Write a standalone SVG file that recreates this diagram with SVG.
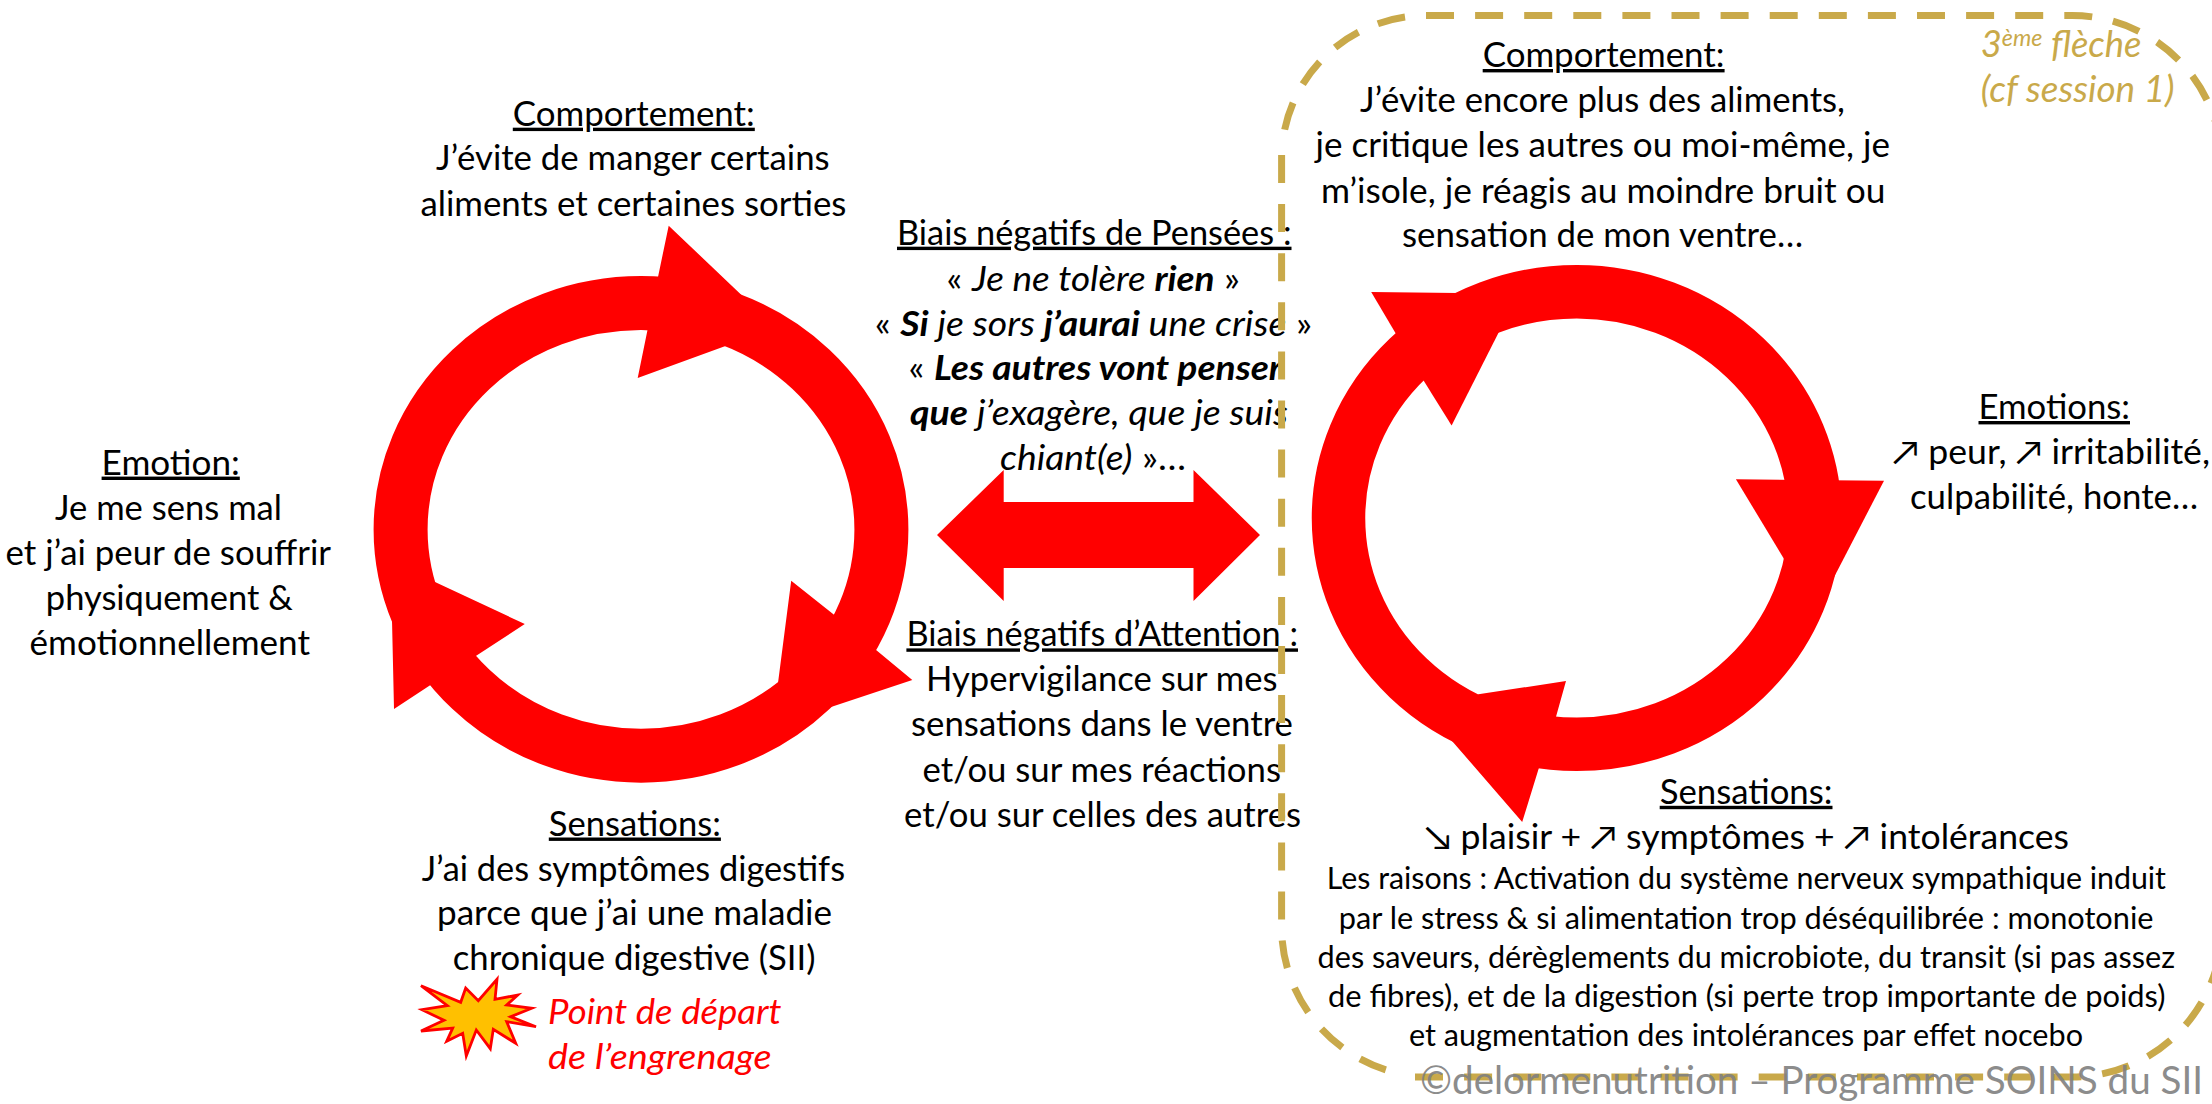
<svg xmlns="http://www.w3.org/2000/svg" width="2212" height="1104" viewBox="0 0 2212 1104">
<style>
text{font-family:"Lato","Carlito","DejaVu Sans",sans-serif;font-size:34px;fill:#000}
.h{text-decoration:underline}
.s{font-size:30px}
.i{font-style:italic}
.b{font-weight:700}
.g{fill:#C9A94A;font-style:italic;font-size:36px}
.r{fill:#FF0000;font-style:italic}
.c{fill:#808080;font-size:39px;opacity:.9}
.ring{fill:none;stroke:#FF0000}
.head{fill:#FF0000}
.dash{fill:none;stroke:#C9A94A;stroke-width:7}
</style>
<rect width="2212" height="1104" fill="#fff"/>
<g id="connectors">
<g id="cycle-left">
<ellipse class="ring" cx="641" cy="529.4" rx="240.4" ry="226.3" stroke-width="54"/>
<polygon class="head" points="668.7,225.7 742.5,296 725.5,346 637.7,378 647.5,330 658,277"/>
<polygon class="head" points="791.2,580.8 834,614.8 876.7,650.5 912.3,680 829.5,707.6 778,683"/>
<polygon class="head" points="392,620 435,582 524.8,624 476.6,655.6 430.5,685 394,709"/>
</g>
<polygon id="double-arrow" class="head" points="937,535 1003.7,470 1003.7,502 1193.5,502 1193.5,470 1260,535 1193.5,601 1193.5,568 1003.7,568 1003.7,601"/>
<g id="cycle-right">
<ellipse class="ring" cx="1576.8" cy="518" rx="238.3" ry="226.3" stroke-width="53.5"/>
<polygon class="head" points="1371.2,292 1457.3,293 1498.9,332 1451.6,425.4 1423.4,380.3 1395.9,333.8"/>
<polygon class="head" points="1735.9,479.2 1884,480.7 1816,612"/>
<polygon class="head" points="1566,681 1556,716.8 1538.4,769.6 1522.2,822 1451.6,740.4 1478.4,694.3"/>
</g>
</g>
<g id="node-comportement-left">
<text class="h" x="512.8" y="125.7" textLength="242" lengthAdjust="spacingAndGlyphs">Comportement:</text>
<text x="436" y="170.4" textLength="393.6" lengthAdjust="spacingAndGlyphs">J’évite de manger certains</text>
<text x="420.4" y="215.5" textLength="426" lengthAdjust="spacingAndGlyphs">aliments et certaines sorties</text>
</g>
<g id="node-emotion-left">
<text class="h" x="101.6" y="474.6" textLength="138.2" lengthAdjust="spacingAndGlyphs">Emotion:</text>
<text x="55" y="519.7" textLength="227" lengthAdjust="spacingAndGlyphs">Je me sens mal</text>
<text x="5.6" y="564.7" textLength="325.4" lengthAdjust="spacingAndGlyphs">et j’ai peur de souffrir</text>
<text x="45.8" y="610" textLength="246.9" lengthAdjust="spacingAndGlyphs">physiquement &amp;</text>
<text x="29.6" y="654.8" textLength="280.4" lengthAdjust="spacingAndGlyphs">émotionnellement</text>
</g>
<g id="node-sensations-left">
<text class="h" x="548.8" y="835.5" textLength="172.1" lengthAdjust="spacingAndGlyphs">Sensations:</text>
<text x="421.8" y="880.5" textLength="423.2" lengthAdjust="spacingAndGlyphs">J’ai des symptômes digestifs</text>
<text x="437" y="925" textLength="395" lengthAdjust="spacingAndGlyphs">parce que j’ai une maladie</text>
<text x="452.8" y="970" textLength="362.6" lengthAdjust="spacingAndGlyphs">chronique digestive (SII)</text>
</g>
<g id="node-depart">
<polygon fill="#FFC000" stroke="#FF0000" stroke-width="2.8" points="421,985.7 460.7,1002.3 465.7,988 478.3,1000.7 497,979.3 495,999.3 517.7,995 506.7,1005 531.7,1008.3 510.7,1016.7 536,1026.7 506.7,1021.7 515.7,1043.3 493.3,1029.3 490.3,1048.7 476.3,1030 466.3,1056 462.7,1033.3 446.7,1041.3 452.7,1028 421,1031 444,1020.3 422,1009.7 447.3,1005.7"/>
<text class="r" x="548" y="1023.8" textLength="233.5" lengthAdjust="spacingAndGlyphs">Point de départ</text>
<text class="r" x="548" y="1068.5" textLength="223.7" lengthAdjust="spacingAndGlyphs">de l’engrenage</text>
</g>
<g id="node-biais-pensees">
<text class="h" x="897" y="244.7" textLength="394.5" lengthAdjust="spacingAndGlyphs">Biais négatifs de Pensées :</text>
<text x="946.6" y="290.5" textLength="293.4" lengthAdjust="spacingAndGlyphs">« <tspan class="i">Je ne tolère </tspan><tspan class="i b">rien</tspan> »</text>
<text x="874.7" y="335.6" textLength="437.3" lengthAdjust="spacingAndGlyphs">« <tspan class="i b">Si</tspan><tspan class="i"> je sors </tspan><tspan class="i b">j’aurai</tspan><tspan class="i"> une crise</tspan> »</text>
<text x="908.5" y="380" textLength="373.5" lengthAdjust="spacingAndGlyphs">« <tspan class="i b">Les autres vont penser</tspan></text>
<text x="910" y="425" textLength="378" lengthAdjust="spacingAndGlyphs"><tspan class="i b">que</tspan><tspan class="i"> j’exagère, que je suis</tspan></text>
<text x="1000" y="470" textLength="186" lengthAdjust="spacingAndGlyphs"><tspan class="i">chiant(e)</tspan> »…</text>
</g>
<g id="node-biais-attention">
<text class="h" x="906.4" y="646.4" textLength="391.6" lengthAdjust="spacingAndGlyphs">Biais négatifs d’Attention :</text>
<text x="926" y="691" textLength="351.4" lengthAdjust="spacingAndGlyphs">Hypervigilance sur mes</text>
<text x="911" y="736" textLength="382" lengthAdjust="spacingAndGlyphs">sensations dans le ventre</text>
<text x="922.6" y="781.6" textLength="358.4" lengthAdjust="spacingAndGlyphs">et/ou sur mes réactions</text>
<text x="904" y="826.6" textLength="397" lengthAdjust="spacingAndGlyphs">et/ou sur celles des autres</text>
</g>
<g id="node-comportement-right">
<text class="h" x="1482.7" y="67" textLength="241.9" lengthAdjust="spacingAndGlyphs">Comportement:</text>
<text x="1360" y="112" textLength="485" lengthAdjust="spacingAndGlyphs">J’évite encore plus des aliments,</text>
<text x="1315.5" y="156.7" textLength="574.5" lengthAdjust="spacingAndGlyphs">je critique les autres ou moi-même, je</text>
<text x="1321" y="202.5" textLength="564.4" lengthAdjust="spacingAndGlyphs">m’isole, je réagis au moindre bruit ou</text>
<text x="1402" y="247" textLength="401" lengthAdjust="spacingAndGlyphs">sensation de mon ventre…</text>
</g>
<g id="node-emotions-right">
<text class="h" x="1978.5" y="419" textLength="151.5" lengthAdjust="spacingAndGlyphs">Emotions:</text>
<text x="1892.5" y="464" textLength="317.5" lengthAdjust="spacingAndGlyphs">↗ peur, ↗ irritabilité,</text>
<text x="1910" y="509" textLength="288" lengthAdjust="spacingAndGlyphs">culpabilité, honte…</text>
</g>
<g id="node-sensations-right">
<text class="h" x="1659.7" y="803.8" textLength="172.8" lengthAdjust="spacingAndGlyphs">Sensations:</text>
<text x="1424.8" y="848.5" textLength="644.2" lengthAdjust="spacingAndGlyphs">↘ plaisir + ↗ symptômes + ↗ intolérances</text>
<text class="s" x="1326.8" y="889" textLength="839.2" lengthAdjust="spacingAndGlyphs">Les raisons : Activation du système nerveux sympathique induit</text>
<text class="s" x="1338.8" y="928.8" textLength="814.7" lengthAdjust="spacingAndGlyphs">par le stress &amp; si alimentation trop déséquilibrée : monotonie</text>
<text class="s" x="1317.6" y="967.8" textLength="857.4" lengthAdjust="spacingAndGlyphs">des saveurs, dérèglements du microbiote, du transit (si pas assez</text>
<text class="s" x="1328" y="1007" textLength="837.5" lengthAdjust="spacingAndGlyphs">de fibres), et de la digestion (si perte trop importante de poids)</text>
<text class="s" x="1409" y="1046" textLength="674" lengthAdjust="spacingAndGlyphs">et augmentation des intolérances par effet nocebo</text>
</g>
<g id="third-arrow">
<path class="dash" stroke-dasharray="28 21.1" d="M 1426 15.5 H 2072 A 150 150 0 0 1 2222 165.5 V 500"/>
<path class="dash" stroke-dasharray="0 21.1 28 21.1 28 21.1 28 21.1 28 500" d="M 1426 15.5 A 144.4 143.5 0 0 0 1281.6 159"/>
<path class="dash" stroke-dasharray="28 21.1" d="M 1281.6 155 V 927 A 150 150 0 0 0 1399 1073.4"/>
<path class="dash" stroke-dasharray="28 21.1" d="M 1415 1077 H 2072 A 150 150 0 0 0 2222 927 V 500"/>
<text class="g" x="1980.7" y="57" textLength="160.8" lengthAdjust="spacingAndGlyphs">3<tspan font-size="23" dy="-11">ème</tspan><tspan dy="11"> flèche</tspan></text>
<text class="g" x="1980.7" y="102" textLength="193.9" lengthAdjust="spacingAndGlyphs">(cf session 1)</text>
</g>
<text id="copyright" class="c" x="1420" y="1094" textLength="783" lengthAdjust="spacingAndGlyphs">©delormenutrition – Programme SOINS du SII</text>
</svg>
